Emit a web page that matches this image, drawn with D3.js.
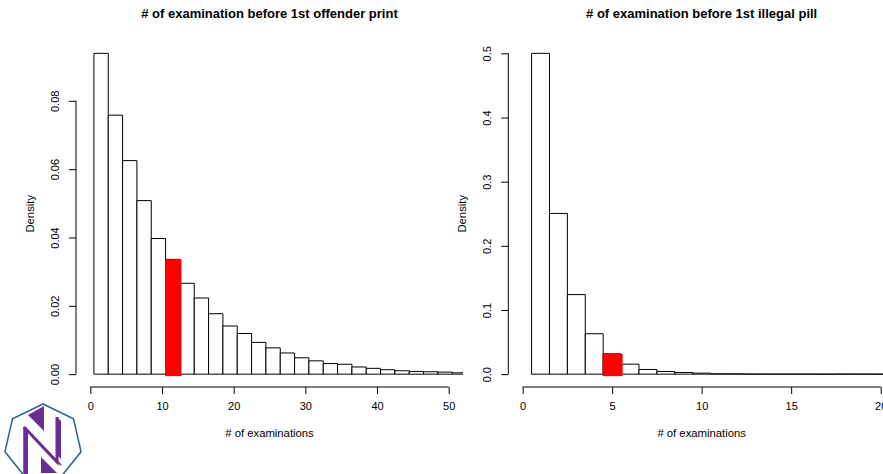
<!DOCTYPE html>
<html>
<head>
<meta charset="utf-8">
<script src="https://cdn.jsdelivr.net/npm/d3@7"></script>
<style>
  html, body { margin: 0; padding: 0; background: #fff; }
  svg { display: block; font-family: "Liberation Sans", Arial, Helvetica, sans-serif; }
</style>
</head>
<body>
<svg id="chart" width="883" height="474"></svg>
<script>
// Offender-print histogram: bins of width 2 starting at 0.5
const offenderTitle = "# of examination before 1st offender print";
const offenderBinStart = 0.5;
const offenderBinWidth = 2;
const offenderDensity = [0.0939, 0.0758, 0.0625, 0.0508, 0.0397, 0.0336, 0.0266, 0.0223,
  0.0177, 0.0141, 0.0119, 0.0093, 0.0077, 0.0062, 0.0048, 0.0039, 0.0031, 0.0029,
  0.0021, 0.0017, 0.0013, 0.0010, 0.0008, 0.0007, 0.0006, 0.0004];
const offenderHighlight = 5;
const offenderXTicks = [0, 10, 20, 30, 40, 50];
const offenderYTicks = [0, 0.02, 0.04, 0.06, 0.08];
const offenderYLabels = ["0.00", "0.02", "0.04", "0.06", "0.08"];

// Illegal-pill histogram: bins of width 1 starting at 0.5
const pillTitle = "# of examination before 1st illegal pill";
const pillBinStart = 0.5;
const pillBinWidth = 1;
const pillDensity = [0.500, 0.2505, 0.124, 0.063, 0.0317, 0.0156, 0.0073, 0.0042, 0.0026,
  0.0016, 0.0006, 0.0004, 0.0002, 0.0001, 0.0001, 0.0001, 0, 0.0002, 0.0001, 0, 0.0001];
const pillHighlight = 4;
const pillXTicks = [0, 5, 10, 15, 20];
const pillYTicks = [0, 0.1, 0.2, 0.3, 0.4, 0.5];
const pillYLabels = ["0.0", "0.1", "0.2", "0.3", "0.4", "0.5"];

const xLabel = "# of examinations";
const yLabel = "Density";

const svg = d3.select("#chart");

function panel(cfg) {
  const { id, left, right, top, bottom, xlim, title, binStart, binWidth, density,
          highlight, xTicks, yTicks, yLabels } = cfg;
  // R-style 4% axis extension
  const xr = xlim[1] - xlim[0];
  const ymax = d3.max(density);
  const x = d3.scaleLinear().domain([xlim[0] - 0.04 * xr, xlim[1] + 0.04 * xr]).range([left, right]);
  const y = d3.scaleLinear().domain([-0.04 * ymax, ymax * 1.04]).range([bottom, top]);

  const g = svg.append("g");
  g.append("clipPath").attr("id", "clip-" + id)
    .append("rect").attr("x", left).attr("y", top)
    .attr("width", right - left).attr("height", bottom - top);

  const bins = density.map((d, i) => ({
    lo: binStart + i * binWidth, hi: binStart + (i + 1) * binWidth, d, i }));

  // bars as closed paths so empty bins still show their baseline edge
  const bars = g.append("g").attr("clip-path", `url(#clip-${id})`);
  bars.selectAll("path.bar").data(bins).join("path")
    .attr("class", "bar")
    .attr("d", b => {
      const x0 = x(b.lo), x1 = x(b.hi), y0 = y(0), y1 = y(b.d);
      return `M${x0},${y0}L${x0},${y1}L${x1},${y1}L${x1},${y0}Z`;
    })
    .attr("fill", "#fff")
    .attr("stroke", "#000")
    .attr("stroke-width", 1);

  const hb = bins[highlight];
  bars.append("rect")
    .attr("x", x(hb.lo) - 0.5)
    .attr("y", y(hb.d))
    .attr("width", x(hb.hi) - x(hb.lo) + 2)
    .attr("height", y(0) - y(hb.d) + 2)
    .attr("fill", "#ff0000");

  // x axis
  const xAxisY = bottom;
  const xa = g.append("g").attr("transform", `translate(0,${xAxisY})`)
    .call(d3.axisBottom(x).tickValues(xTicks).tickSize(7).tickSizeOuter(0).tickFormat(d3.format("d")));
  xa.select(".domain").remove();
  xa.append("line").attr("x1", x(xTicks[0])).attr("x2", x(xTicks[xTicks.length - 1]))
    .attr("stroke", "#000");
  xa.selectAll(".tick line").attr("stroke", "#000");
  xa.selectAll(".tick text").attr("font-size", 11).attr("fill", "#000")
    .attr("font-family", "Liberation Sans, Arial, sans-serif").attr("dy", "0.75em").attr("y", 15);

  // y axis
  const ya = g.append("g").attr("transform", `translate(${left},0)`)
    .call(d3.axisLeft(y).tickValues(yTicks).tickSize(7).tickSizeOuter(0)
      .tickFormat((d, i) => yLabels[i]));
  ya.select(".domain").remove();
  ya.append("line").attr("y1", y(yTicks[0])).attr("y2", y(yTicks[yTicks.length - 1]))
    .attr("stroke", "#000");
  ya.selectAll(".tick line").attr("stroke", "#000");
  ya.selectAll(".tick text")
    .attr("font-size", 11).attr("fill", "#000")
    .attr("font-family", "Liberation Sans, Arial, sans-serif")
    .attr("x", null).attr("dy", null)
    .attr("text-anchor", "middle")
    .attr("transform", "translate(-17,0) rotate(-90)");

  const cx = (left + right) / 2;
  g.append("text").attr("x", cx).attr("y", 17.5).attr("text-anchor", "middle")
    .attr("font-size", 13).attr("font-weight", "bold").attr("fill", "#000").text(title);
  g.append("text").attr("x", cx).attr("y", 437).attr("text-anchor", "middle")
    .attr("font-size", 11.3).attr("fill", "#000").text(xLabel);
  g.append("text").attr("transform", `translate(${left - 42},${(top + bottom) / 2}) rotate(-90)`)
    .attr("text-anchor", "middle").attr("font-size", 11.3).attr("fill", "#000").text(yLabel);
}

panel({ id: "offender", left: 76, right: 463, top: 40.5, bottom: 387, xlim: [0, 50],
  title: offenderTitle, binStart: offenderBinStart, binWidth: offenderBinWidth,
  density: offenderDensity, highlight: offenderHighlight,
  xTicks: offenderXTicks, yTicks: offenderYTicks, yLabels: offenderYLabels });

panel({ id: "pill", left: 508.3, right: 895, top: 40.5, bottom: 387, xlim: [0, 20],
  title: pillTitle, binStart: pillBinStart, binWidth: pillBinWidth,
  density: pillDensity, highlight: pillHighlight,
  xTicks: pillXTicks, yTicks: pillYTicks, yLabels: pillYLabels });

// Heptagon badge with a stylised "N"
const logo = svg.append("g").attr("transform", "translate(43,443)");
const R = 39;
const hept = d3.range(7).map(k => {
  const a = -Math.PI / 2 + k * 2 * Math.PI / 7;
  return [R * Math.cos(a), R * Math.sin(a)];
});
logo.append("polygon").attr("points", hept.map(p => p.join(",")).join(" "))
  .attr("fill", "#fff").attr("stroke", "#2f6690").attr("stroke-width", 1.6);
const purple = "#6b2d93";
logo.append("polygon").attr("points", "-15,-28 1,-37 1,-12").attr("fill", purple);
logo.append("polygon").attr("points", "-2,14 14,30 -2,30").attr("fill", purple);
logo.append("polygon").attr("points", "14,-26 18,-22 18,16 14,12").attr("fill", purple);
logo.append("polygon").attr("points", "-19,-16 -15,-12 -15,31 -19,31").attr("fill", purple);
logo.append("path").attr("d", "M-19,-16 L14,19 L14,-26").attr("fill", "none")
  .attr("stroke", purple).attr("stroke-width", 3);
logo.append("path").attr("d", "M-19,-16 L-19,31 M-15,-12 L18,22")
  .attr("fill", "none").attr("stroke", purple).attr("stroke-width", 1.5);
</script>
</body>
</html>
